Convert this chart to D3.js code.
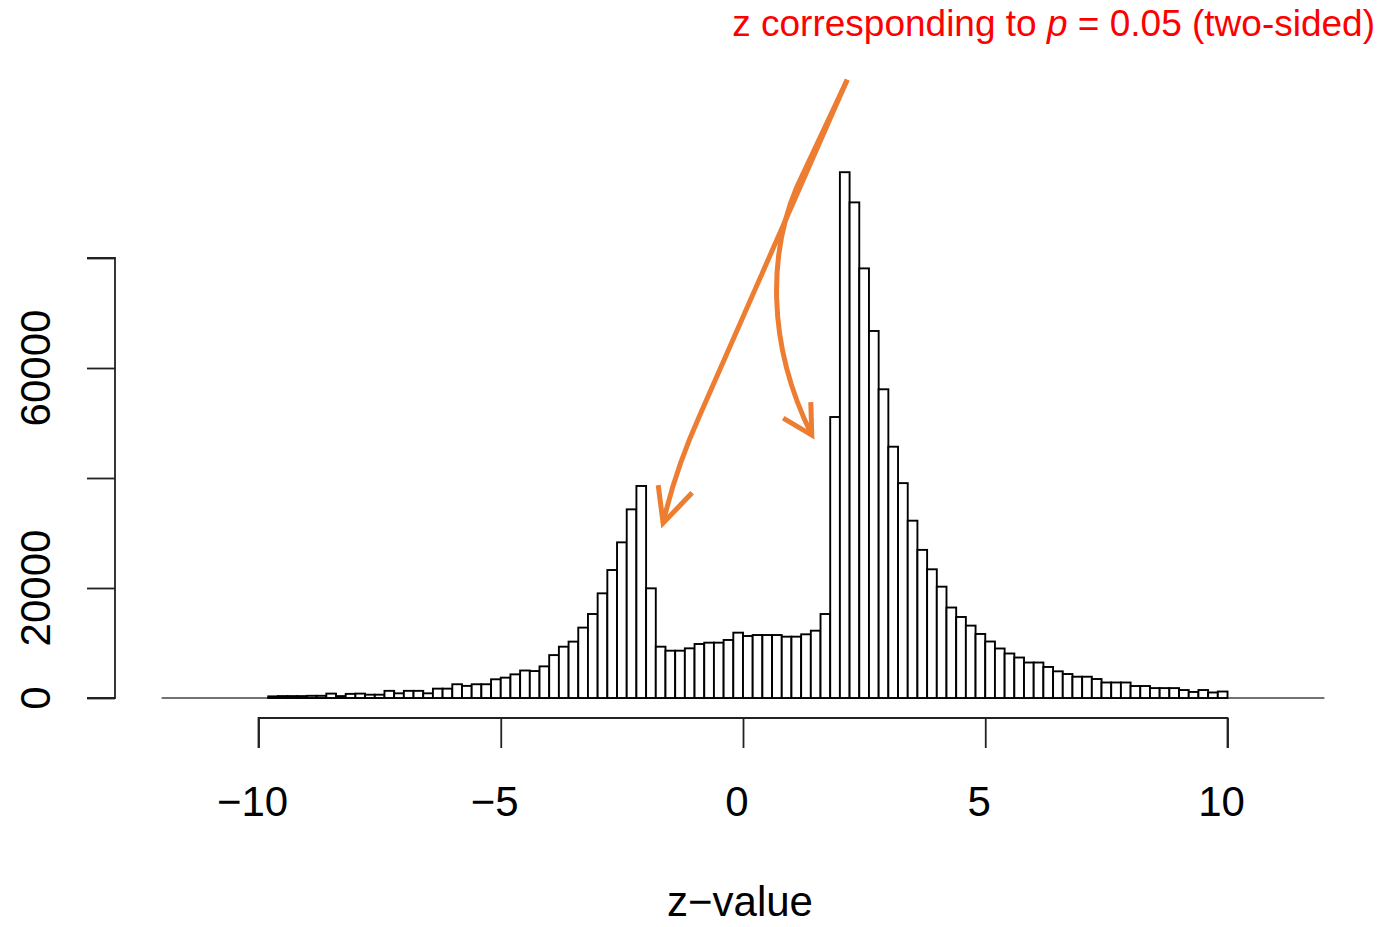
<!DOCTYPE html>
<html>
<head>
<meta charset="utf-8">
<script src="https://cdn.jsdelivr.net/npm/d3@7"></script>
<style>
  html, body { margin: 0; padding: 0; background: #fff; }
  svg { display: block; }
  text { font-family: "Liberation Sans", Arial, Helvetica, sans-serif; }
</style>
</head>
<body>
<svg id="chart" width="1384" height="927"></svg>
<script>
// ---- data ----
const binStart = -10;
const binWidth = 0.2;
const counts = [
  0, 300, 350, 350, 350, 400, 400, 800, 350, 750,
  800, 600, 600, 1300, 850, 1300, 1300, 850, 1700, 1700,
  2500, 2200, 2500, 2500, 3400, 3700, 4300, 5000, 4900, 5750,
  7800, 9330, 10250, 12800, 15270, 19030, 23270, 28300, 34300, 38550,
  19940, 9330, 8600, 8600, 9030, 9820, 10060, 10060, 10550, 11880,
  11270, 11450, 11450, 11450, 11150, 11150, 11580, 12240, 15270, 51090,
  95600, 90110, 78110, 66730, 56130, 45690, 39070, 32240, 26930, 23400,
  20240, 16450, 14730, 13160, 11640, 10270, 9000, 8090, 7360, 6450,
  6450, 5640, 4850, 4360, 3870, 3870, 3450, 2820, 2820, 2820,
  2180, 2180, 1800, 1800, 1800, 1450, 1100, 1450, 1000, 1180
];
const xTicks = [-10, -5, 0, 5, 10];
const xTickLabels = ["\u221210", "\u22125", "0", "5", "10"];
const yTicks = [0, 20000, 40000, 60000, 80000];
const yLabelValues = [0, 20000, 60000];
const xTitle = "z\u2212value";
// annotation arrows, in data units (z, count)
const arrowStart = [2.15, 112400];
const arrowLeft = { via: [-0.89, 51450], ctrl: [-1.40, 41450], tip: [-1.65, 31800],
                    barbs: [[-1.75, 38700], [-1.05, 37300]] };
const arrowRight = { via: [1.11, 92900], c1: [0.56, 81450], c2: [0.45, 65100], tip: [1.42, 47800],
                     barbs: [[1.40, 53800], [0.83, 50900]] };

// ---- scales ----
const svg = d3.select("#chart");
const x = d3.scaleLinear().domain([-10, 10]).range([258.5, 1227.5]);
const y = d3.scaleLinear().domain([0, 80000]).range([698, 258]);

// baseline
svg.append("line")
  .attr("x1", x(-12)).attr("x2", x(12))
  .attr("y1", y(0)).attr("y2", y(0))
  .attr("stroke", "#444").attr("stroke-width", 1.6);

// bars
svg.append("g").selectAll("rect").data(counts).join("rect")
  .attr("x", (d, i) => x(binStart + i * binWidth))
  .attr("width", x(binStart + binWidth) - x(binStart))
  .attr("y", d => y(d))
  .attr("height", d => y(0) - y(d))
  .attr("fill", "#fff")
  .attr("stroke", "#000")
  .attr("stroke-width", 1.9);

// y axis
const yAxis = d3.axisLeft(y).tickValues(yTicks).tickSize(28).tickFormat("");
const gy = svg.append("g").attr("transform", "translate(115,0)").call(yAxis);
gy.select(".domain").attr("d", `M-28,${y(80000)}H0V${y(0)}H-28`).attr("fill", "none")
  .attr("stroke", "#222").attr("stroke-width", 1.8);
gy.selectAll(".tick line").attr("stroke", "#222").attr("stroke-width", 1.8);
svg.append("g").selectAll("text").data(yLabelValues).join("text")
  .attr("transform", d => `translate(50,${y(d)}) rotate(-90)`)
  .attr("text-anchor", "middle")
  .attr("font-size", 42)
  .attr("fill", "#000")
  .text(d => String(d));

// x axis
const xAxis = d3.axisBottom(x).tickValues(xTicks).tickSize(30).tickFormat("");
const gx = svg.append("g").attr("transform", "translate(0,718)").call(xAxis);
gx.select(".domain").attr("d", `M${x(-10)},30V0H${x(10)}V30`).attr("fill", "none")
  .attr("stroke", "#222").attr("stroke-width", 1.8);
gx.selectAll(".tick line").attr("stroke", "#222").attr("stroke-width", 1.8);
svg.append("g").selectAll("text").data(xTicks).join("text")
  .attr("x", d => x(d) - 6)
  .attr("y", 816)
  .attr("text-anchor", "middle")
  .attr("font-size", 42)
  .attr("fill", "#000")
  .text((d, i) => xTickLabels[i]);

svg.append("text")
  .attr("x", 740).attr("y", 916)
  .attr("text-anchor", "middle")
  .attr("font-size", 42)
  .attr("fill", "#000")
  .text(xTitle);

// annotation title
const t = svg.append("text")
  .attr("x", 1375).attr("y", 36)
  .attr("text-anchor", "end")
  .attr("font-size", 37)
  .attr("fill", "#ff0000");
t.append("tspan").text("z corresponding to ");
t.append("tspan").attr("font-style", "italic").text("p");
t.append("tspan").text(" = 0.05 (two-sided)");

// arrows
const P = p => `${x(p[0]).toFixed(1)},${y(p[1]).toFixed(1)}`;
const orange = "#ED7D31";
const arrowG = svg.append("g").attr("fill", "none").attr("stroke", orange)
  .attr("stroke-width", 5).attr("stroke-linecap", "butt").attr("stroke-linejoin", "miter");
arrowG.append("path")
  .attr("d", `M${P(arrowStart)}L${P(arrowLeft.via)}Q${P(arrowLeft.ctrl)} ${P(arrowLeft.tip)}`);
arrowG.append("path")
  .attr("d", `M${P(arrowLeft.barbs[0])}L${P(arrowLeft.tip)}L${P(arrowLeft.barbs[1])}`);
arrowG.append("path")
  .attr("d", `M${P(arrowStart)}L${P(arrowRight.via)}C${P(arrowRight.c1)} ${P(arrowRight.c2)} ${P(arrowRight.tip)}`);
arrowG.append("path")
  .attr("d", `M${P(arrowRight.barbs[0])}L${P(arrowRight.tip)}L${P(arrowRight.barbs[1])}`);
</script>
</body>
</html>
